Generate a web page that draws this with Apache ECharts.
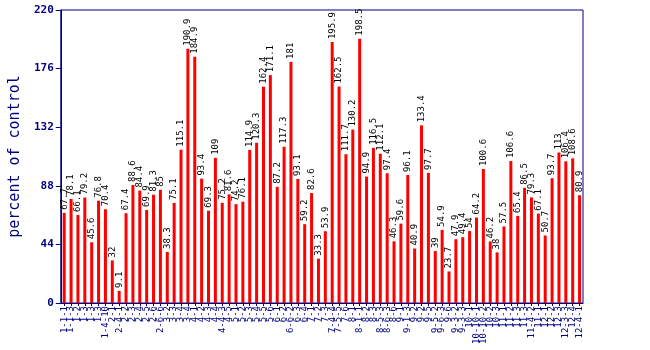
<!DOCTYPE html>
<html><head><meta charset="utf-8">
<script src="https://cdn.jsdelivr.net/npm/echarts@6/dist/echarts.min.js"></script>
<style>html,body{margin:0;padding:0;background:#fff}#c{width:650px;height:350px}</style>
</head><body><div id="c"></div>
<script>
const categories = ["1-1-1","1-1-3","1-2","1-3","1-3","1-3","1-4-10","2-1","2-4-1","2-2","2-3","2-4","2-5","2-6","2-6-6","3-2","3-3","3-4","3-4","4-1","4-2","4-3","4-4","4-4-3","4-5","5-1","5-2","5-3","5-4","5-5","5-6","6-1","6-2","6-6-2","6-3","6-4","7-1","7-2","7-3","7-4-4","7-5-5","7-6","8-1","8-1-1","8-2","8-3","8-5-3","8-6-3","8-6","9-1","9-1-3","9-2","9-2","9-5","9-5-2","9-6-3","9-6","9-3-2","9-3-3","10-1","10-10-1","10-10-2","10-2","10-3","11-1","11-2","11-3","11-3","11-4-2","11-1","12-1","12-2","12-3","12-3-3","12-4","12-4-1"];
const values = [67.7,78.1,66.1,79.2,45.6,76.8,70.4,32,9.1,67.4,88.6,84.4,69.9,81.3,85,38.3,75.1,115.1,190.9,184.9,93.4,69.3,109,75.2,81.6,74.2,76.1,114.9,120.3,162.4,171.1,87.2,117.3,181,93.1,59.2,82.6,33.3,53.9,195.9,162.5,111.7,130.2,198.5,94.9,116.5,112.1,97.4,46.3,59.6,96.1,40.9,133.4,97.7,39,54.9,23.7,47.9,49.4,54,64.2,100.6,46.2,38,57.5,106.6,65.4,86.5,79.3,67.1,50.7,93.7,113,106.4,108.6,80.9];
const yTicks = [0,44,88,132,176,220];
const navy = '#000080';
const mono = '"DejaVu Sans Mono", "Liberation Mono", monospace';
const chart = echarts.init(document.getElementById('c'));
chart.setOption({
  animation: false,
  backgroundColor: '#fff',
  grid: {left: 45, right: 67, top: 10, bottom: 47, show: true, borderColor: navy, borderWidth: 1},
  xAxis: {
    type: 'category', data: categories, boundaryGap: true,
    axisLine: {lineStyle: {color: navy, width: 1}},
    axisTick: {show: true, alignWithLabel: true, length: 3, lineStyle: {color: navy}},
    axisLabel: {rotate: 90, interval: 0, hideOverlap: false, color: navy, fontFamily: mono, fontSize: 9, margin: 3}
  },
  yAxis: {
    type: 'value', min: yTicks[0], max: yTicks[yTicks.length-1], interval: 44,
    name: 'percent of control', nameLocation: 'middle', nameGap: 35,
    nameTextStyle: {color: navy, fontFamily: mono, fontSize: 15},
    axisLine: {show: true, lineStyle: {color: navy, width: 1}},
    axisTick: {show: true, length: 5, lineStyle: {color: navy}},
    splitLine: {show: false},
    axisLabel: {color: navy, fontFamily: mono, fontSize: 11, fontWeight: 'bold', margin: 7}
  },
  series: [{
    type: 'bar', data: values, barWidth: 3,
    itemStyle: {color: '#ff0000'},
    label: {show: true, position: 'top', rotate: 90, align: 'left', verticalAlign: 'middle', distance: 3,
      color: '#000', fontFamily: mono, fontSize: 9}
  }]
});
</script></body></html>
